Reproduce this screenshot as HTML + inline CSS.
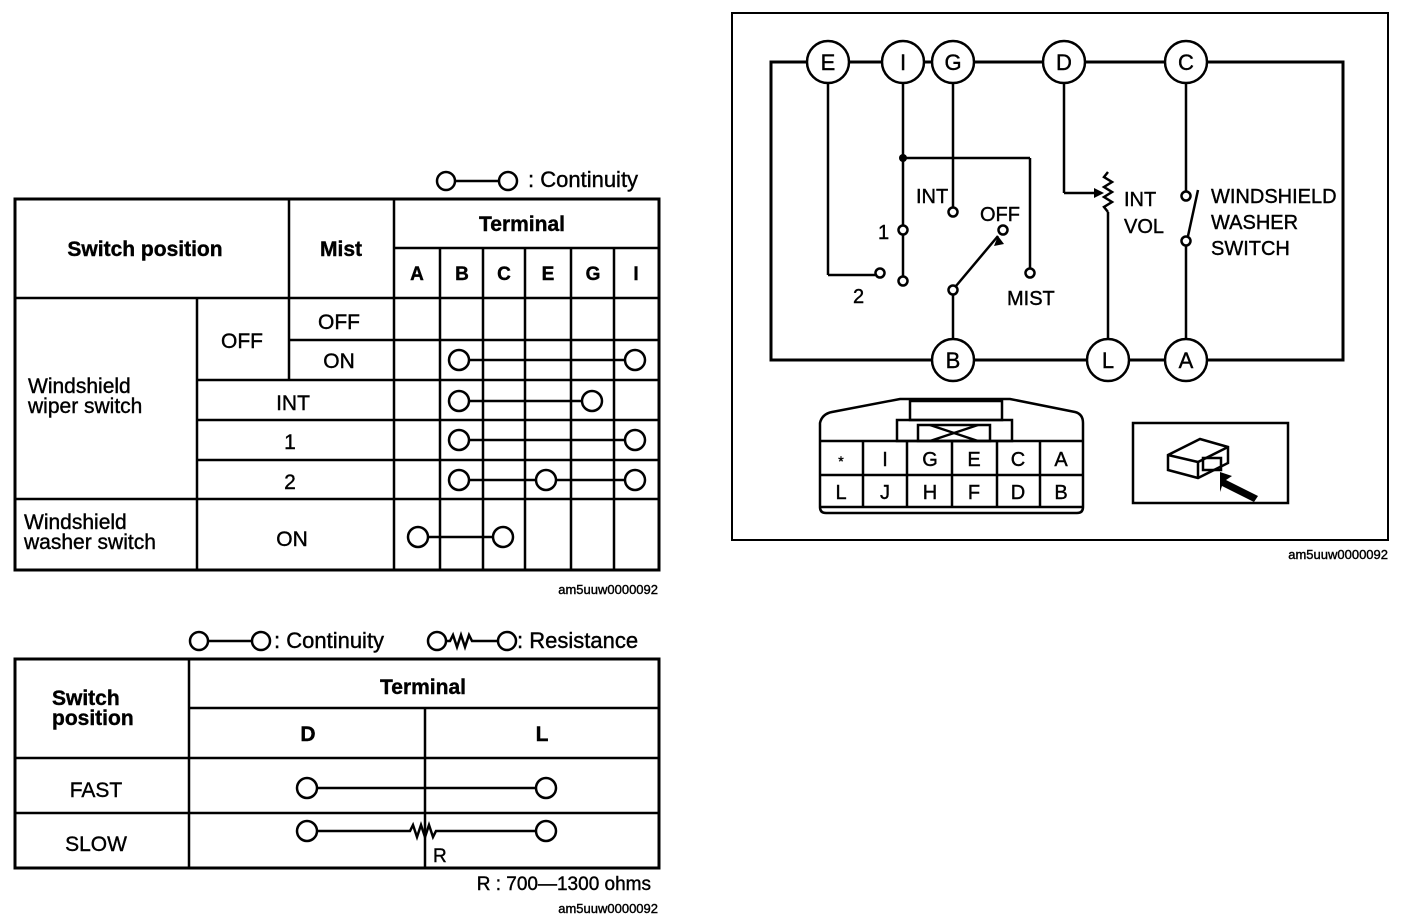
<!DOCTYPE html>
<html><head><meta charset="utf-8"><style>
body{margin:0;background:#fff}
svg{display:block}
text{font-family:"Liberation Sans",Arial,sans-serif;fill:#000;stroke:#000;stroke-width:0.4}
.b{font-weight:bold}
</style></head><body>
<svg width="1408" height="922" viewBox="0 0 1408 922" xmlns="http://www.w3.org/2000/svg">
<g stroke="#000" fill="none" stroke-width="2.5">
<!-- Table 1 -->
<rect x="15" y="199" width="644" height="371" stroke-width="3"/>
<line x1="394" y1="248" x2="659" y2="248"/>
<line x1="15" y1="298" x2="659" y2="298"/>
<line x1="289" y1="340" x2="659" y2="340"/>
<line x1="197" y1="380" x2="659" y2="380"/>
<line x1="197" y1="420" x2="659" y2="420"/>
<line x1="197" y1="460" x2="659" y2="460"/>
<line x1="15" y1="499" x2="659" y2="499"/>
<line x1="197" y1="298" x2="197" y2="570"/>
<line x1="289" y1="199" x2="289" y2="380"/>
<line x1="394" y1="199" x2="394" y2="570"/>
<line x1="440" y1="248" x2="440" y2="570"/>
<line x1="483" y1="248" x2="483" y2="570"/>
<line x1="525" y1="248" x2="525" y2="570"/>
<line x1="571" y1="248" x2="571" y2="570"/>
<line x1="614" y1="248" x2="614" y2="570"/>
<line x1="459" y1="360" x2="635" y2="360"/>
<line x1="459" y1="401" x2="592" y2="401"/>
<line x1="459" y1="440" x2="635" y2="440"/>
<line x1="459" y1="480" x2="635" y2="480"/>
<line x1="418" y1="537" x2="503" y2="537"/>
<line x1="446" y1="181" x2="508" y2="181"/>
<g fill="#fff">
<circle cx="459" cy="360" r="10"/><circle cx="635" cy="360" r="10"/>
<circle cx="459" cy="401" r="10"/><circle cx="592" cy="401" r="10"/>
<circle cx="459" cy="440" r="10"/><circle cx="635" cy="440" r="10"/>
<circle cx="459" cy="480" r="10"/><circle cx="546" cy="480" r="10"/><circle cx="635" cy="480" r="10"/>
<circle cx="418" cy="537" r="10"/><circle cx="503" cy="537" r="10"/>
<circle cx="446" cy="181" r="9"/><circle cx="508" cy="181" r="9"/>
</g>
<!-- Table 2 -->
<rect x="15" y="659" width="644" height="209" stroke-width="3"/>
<line x1="189" y1="708" x2="659" y2="708"/>
<line x1="15" y1="758" x2="659" y2="758"/>
<line x1="15" y1="813" x2="659" y2="813"/>
<line x1="189" y1="659" x2="189" y2="868"/>
<line x1="425" y1="708" x2="425" y2="868"/>
<line x1="307" y1="788" x2="546" y2="788"/>
<polyline points="307,831 410,831 413,825 417,837 421,825 425,837 429,825 433,837 436,831 546,831"/>
<line x1="199" y1="641" x2="261" y2="641"/>
<polyline points="437,641 450,641 453,635 457,647 461,635 465,647 469,635 472,641 507,641"/>
<g fill="#fff">
<circle cx="307" cy="788" r="10"/><circle cx="546" cy="788" r="10"/>
<circle cx="307" cy="831" r="10"/><circle cx="546" cy="831" r="10"/>
<circle cx="199" cy="641" r="9"/><circle cx="261" cy="641" r="9"/>
<circle cx="437" cy="641" r="9"/><circle cx="507" cy="641" r="9"/>
</g>
<!-- Right diagram -->
<rect x="732" y="13" width="656" height="527" stroke-width="2"/>
<rect x="771" y="62" width="572" height="298" stroke-width="3"/>
<line x1="828" y1="83" x2="828" y2="275"/><line x1="828" y1="275" x2="875" y2="275"/>
<line x1="903" y1="83" x2="903" y2="225"/><line x1="903" y1="235" x2="903" y2="276"/>
<line x1="903" y1="158" x2="1030" y2="158"/><line x1="1030" y1="158" x2="1030" y2="268"/>
<line x1="953" y1="83" x2="953" y2="207"/>
<line x1="953" y1="295" x2="953" y2="339"/>
<line x1="956" y1="286" x2="998" y2="236"/>
<line x1="1064" y1="83" x2="1064" y2="193"/><line x1="1064" y1="193" x2="1100" y2="193"/>
<polyline points="1108,172 1104,177 1112,182 1104,187 1112,192 1104,197 1112,202 1104,207 1108,212"/>
<line x1="1108" y1="212" x2="1108" y2="339"/>
<line x1="1186" y1="83" x2="1186" y2="191"/>
<line x1="1198" y1="190" x2="1188" y2="236"/>
<line x1="1186" y1="246" x2="1186" y2="339"/>
<g fill="#fff">
<circle cx="828" cy="62" r="21"/><circle cx="903" cy="62" r="21"/><circle cx="953" cy="62" r="21"/>
<circle cx="1064" cy="62" r="21"/><circle cx="1186" cy="62" r="21"/>
<circle cx="953" cy="360" r="21"/><circle cx="1108" cy="360" r="21"/><circle cx="1186" cy="360" r="21"/>
<circle cx="880" cy="273" r="4.5"/><circle cx="903" cy="230" r="4.5"/><circle cx="903" cy="281" r="4.5"/>
<circle cx="953" cy="212" r="4.5"/><circle cx="1003" cy="230" r="4.5"/><circle cx="1030" cy="273" r="4.5"/>
<circle cx="953" cy="290" r="4.5"/><circle cx="1186" cy="196" r="4.5"/><circle cx="1186" cy="241" r="4.5"/>
</g>
<path d="M820,423 Q822,414 832,412 L900,399 L1010,399 L1075,412 Q1083,414 1083,423 L1083,507 Q1083,513 1077,513 L826,513 Q820,513 820,507 Z"/>
<rect x="897" y="420" width="115" height="21"/>
<rect x="910" y="401" width="92" height="19"/>
<rect x="918" y="425" width="72" height="16"/>
<line x1="930" y1="425" x2="978" y2="441"/><line x1="930" y1="441" x2="978" y2="425"/>
<line x1="820" y1="441" x2="1083" y2="441"/>
<line x1="820" y1="475" x2="1083" y2="475"/>
<line x1="820" y1="507" x2="1083" y2="507"/>
<line x1="863" y1="441" x2="863" y2="507"/><line x1="907" y1="441" x2="907" y2="507"/>
<line x1="952" y1="441" x2="952" y2="507"/><line x1="997" y1="441" x2="997" y2="507"/>
<line x1="1040" y1="441" x2="1040" y2="507"/>
<rect x="1133" y="423" width="155" height="80"/>
<path d="M1168,455 L1200,439 L1228,447 L1228,463 L1198,478 L1168,470 Z"/>
<path d="M1168,455 L1198,462 L1228,447 M1198,462 L1198,478"/>
<rect x="1203" y="458" width="18" height="12"/>
</g>
<polygon points="1220,472 1232,476 1226,480 1258,496 1254,502 1222,486 1220,492" fill="#000"/>
<polygon points="998,236 994,246 1004,244" fill="#000"/>
<polygon points="1104,193 1094,188 1094,198" fill="#000"/>
<circle cx="903" cy="158" r="4" fill="#000"/>
<text x="528" y="187" font-size="22">: Continuity</text>
<text x="145" y="256" font-size="21" class="b" text-anchor="middle">Switch position</text>
<text x="341" y="256" font-size="21" class="b" text-anchor="middle">Mist</text>
<text x="522" y="231" font-size="21" class="b" text-anchor="middle">Terminal</text>
<g font-size="19" class="b" text-anchor="middle">
<text x="417" y="280">A</text><text x="462" y="280">B</text><text x="504" y="280">C</text>
<text x="548" y="280">E</text><text x="593" y="280">G</text><text x="636" y="280">I</text>
</g>
<g font-size="21" text-anchor="middle">
<text x="339" y="329">OFF</text><text x="339" y="368">ON</text>
<text x="242" y="348">OFF</text>
<text x="293" y="410">INT</text><text x="290" y="449">1</text><text x="290" y="489">2</text>
<text x="292" y="546">ON</text>
</g>
<g font-size="21">
<text x="28" y="393">Windshield</text><text x="28" y="413">wiper switch</text>
<text x="24" y="529">Windshield</text><text x="24" y="549">washer switch</text>
</g>
<text x="658" y="594" font-size="13" text-anchor="end">am5uuw0000092</text>
<text x="274" y="648" font-size="22">: Continuity</text>
<text x="517" y="648" font-size="22">: Resistance</text>
<text x="52" y="705" font-size="21" class="b">Switch</text>
<text x="52" y="725" font-size="21" class="b">position</text>
<text x="423" y="694" font-size="21" class="b" text-anchor="middle">Terminal</text>
<text x="308" y="741" font-size="21" class="b" text-anchor="middle">D</text>
<text x="542" y="741" font-size="21" class="b" text-anchor="middle">L</text>
<text x="96" y="797" font-size="21" text-anchor="middle">FAST</text>
<text x="96" y="851" font-size="21" text-anchor="middle">SLOW</text>
<text x="433" y="862" font-size="19">R</text>
<text x="651" y="890" font-size="19" text-anchor="end">R : 700—1300 ohms</text>
<text x="658" y="913" font-size="13" text-anchor="end">am5uuw0000092</text>
<g font-size="22" text-anchor="middle">
<text x="828" y="70">E</text><text x="903" y="70">I</text><text x="953" y="70">G</text>
<text x="1064" y="70">D</text><text x="1186" y="70">C</text>
<text x="953" y="368">B</text><text x="1108" y="368">L</text><text x="1186" y="368">A</text>
</g>
<g font-size="20">
<text x="916" y="203">INT</text><text x="980" y="221">OFF</text>
<text x="878" y="239">1</text><text x="853" y="303">2</text>
<text x="1007" y="305">MIST</text>
<text x="1124" y="206">INT</text><text x="1124" y="233">VOL</text>
<text x="1211" y="203">WINDSHIELD</text><text x="1211" y="229">WASHER</text><text x="1211" y="255">SWITCH</text>
</g>
<g font-size="20" text-anchor="middle">
<text x="841" y="466" font-size="14">*</text><text x="885" y="466">I</text><text x="930" y="466">G</text>
<text x="974" y="466">E</text><text x="1018" y="466">C</text><text x="1061" y="466">A</text>
<text x="841" y="499">L</text><text x="885" y="499">J</text><text x="930" y="499">H</text>
<text x="974" y="499">F</text><text x="1018" y="499">D</text><text x="1061" y="499">B</text>
</g>
<text x="1388" y="559" font-size="13" text-anchor="end">am5uuw0000092</text>
</svg>
</body></html>
